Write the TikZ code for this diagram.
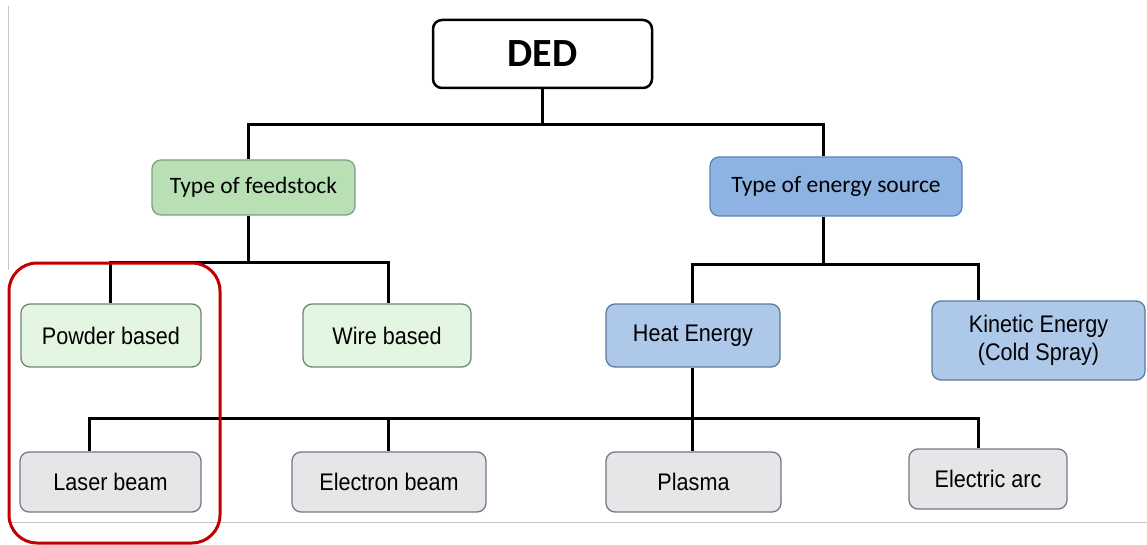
\documentclass[tikz,border=0pt]{standalone}
\usepackage{fontspec}
\setmainfont[FakeStretch=0.9]{Liberation Sans}
\newfontfamily\calib{Carlito}
\definecolor{feedfill}{HTML}{B9E0B4}
\definecolor{feeddraw}{HTML}{7E9E86}
\definecolor{enfill}{HTML}{8DB3E2}
\definecolor{endraw}{HTML}{5F84B5}
\definecolor{lgfill}{HTML}{E3F6E1}
\definecolor{lgdraw}{HTML}{6E8578}
\definecolor{lbfill}{HTML}{AEC8EA}
\definecolor{lbdraw}{HTML}{5E7A99}
\definecolor{gyfill}{HTML}{E6E5E8}
\definecolor{gydraw}{HTML}{6D7A88}
\definecolor{redbox}{HTML}{C00000}
\tikzset{
  box/.style={rectangle, rounded corners=9pt, line width=1.3pt, inner sep=0pt, align=center},
  conn/.style={line width=3pt, black},
  lowtext/.style={font=\fontsize{24}{28}\selectfont},
}
\begin{document}
\begin{tikzpicture}[x=1pt,y=-1pt]
\useasboundingbox (0,0) rectangle (1147,545);
% faint frame lines
\draw[black!22, line width=1pt] (8,6) -- (8,270);
\draw[black!22, line width=1pt] (8,522) -- (1147,522);
% nodes
\node[box, draw=black, line width=2.5pt, fill=white, minimum width=219pt, minimum height=68pt, font=\calib\bfseries\fontsize{40}{42}\selectfont] (ded) at (542.5,54) {DED};
\node[box, draw=feeddraw, fill=feedfill, minimum width=203pt, minimum height=55pt, font=\calib\fontsize{23.5}{26}\selectfont] (feed) at (253.5,187.5) {Type of feedstock};
\node[box, draw=endraw, fill=enfill, minimum width=252pt, minimum height=59pt, font=\calib\fontsize{23.5}{26}\selectfont] (energy) at (836,186.5) {Type of energy source};
\node[box, draw=lgdraw, fill=lgfill, minimum width=180pt, minimum height=63pt, lowtext] (powder) at (111,335.5) {Powder based};
\node[box, draw=lgdraw, fill=lgfill, minimum width=168pt, minimum height=63pt, lowtext] (wire) at (387,335.5) {Wire based};
\node[box, draw=lbdraw, fill=lbfill, minimum width=174pt, minimum height=63pt, lowtext] (heat) at (693,335.5) {Heat Energy};
\node[box, draw=lbdraw, fill=lbfill, minimum width=213pt, minimum height=79pt, lowtext] (kinetic) at (1038.5,340.5) {Kinetic Energy\\(Cold Spray)};
\node[box, draw=gydraw, fill=gyfill, minimum width=181pt, minimum height=60pt, lowtext] (laser) at (110.5,482) {Laser beam};
\node[box, draw=gydraw, fill=gyfill, minimum width=194pt, minimum height=60pt, lowtext] (electron) at (389,482) {Electron beam};
\node[box, draw=gydraw, fill=gyfill, minimum width=175pt, minimum height=60pt, lowtext] (plasma) at (693.5,482) {Plasma};
\node[box, draw=gydraw, fill=gyfill, minimum width=158pt, minimum height=60pt, lowtext] (arc) at (988,479) {Electric arc};
% junction coordinates
\coordinate (hl) at (248,125);
\coordinate (hr) at (823,125);
\coordinate (f1) at (248,262);
\coordinate (pl) at (110,262);
\coordinate (wr) at (388,262);
\coordinate (e1) at (823,264);
\coordinate (hh) at (692,264);
\coordinate (kk) at (978,264);
\coordinate (h3) at (692,418);
\coordinate (lb) at (89,418);
\coordinate (eb) at (388,418);
\coordinate (ea) at (978,418);
% connectors
\draw[conn] (ded.south) -- (ded.south |- hl);
\draw[conn] (hl |- feed.north) -- (hl) -- (hr) -- (hr |- energy.north);
\draw[conn] (f1 |- feed.south) -- (f1);
\draw[conn] (pl |- powder.north) -- (pl) -- (wr) -- (wr |- wire.north);
\draw[conn] (e1 |- energy.south) -- (e1);
\draw[conn] (hh |- heat.north) -- (hh) -- (kk) -- (kk |- kinetic.north);
\draw[conn] (h3 |- heat.south) -- (h3 |- plasma.north);
\draw[conn] (lb |- laser.north) -- (lb) -- (ea) -- (ea |- arc.north);
\draw[conn] (eb) -- (eb |- electron.north);
% highlight
\draw[redbox, line width=3pt, rounded corners=28pt] (9,263) rectangle (220,543);
\end{tikzpicture}
\end{document}
